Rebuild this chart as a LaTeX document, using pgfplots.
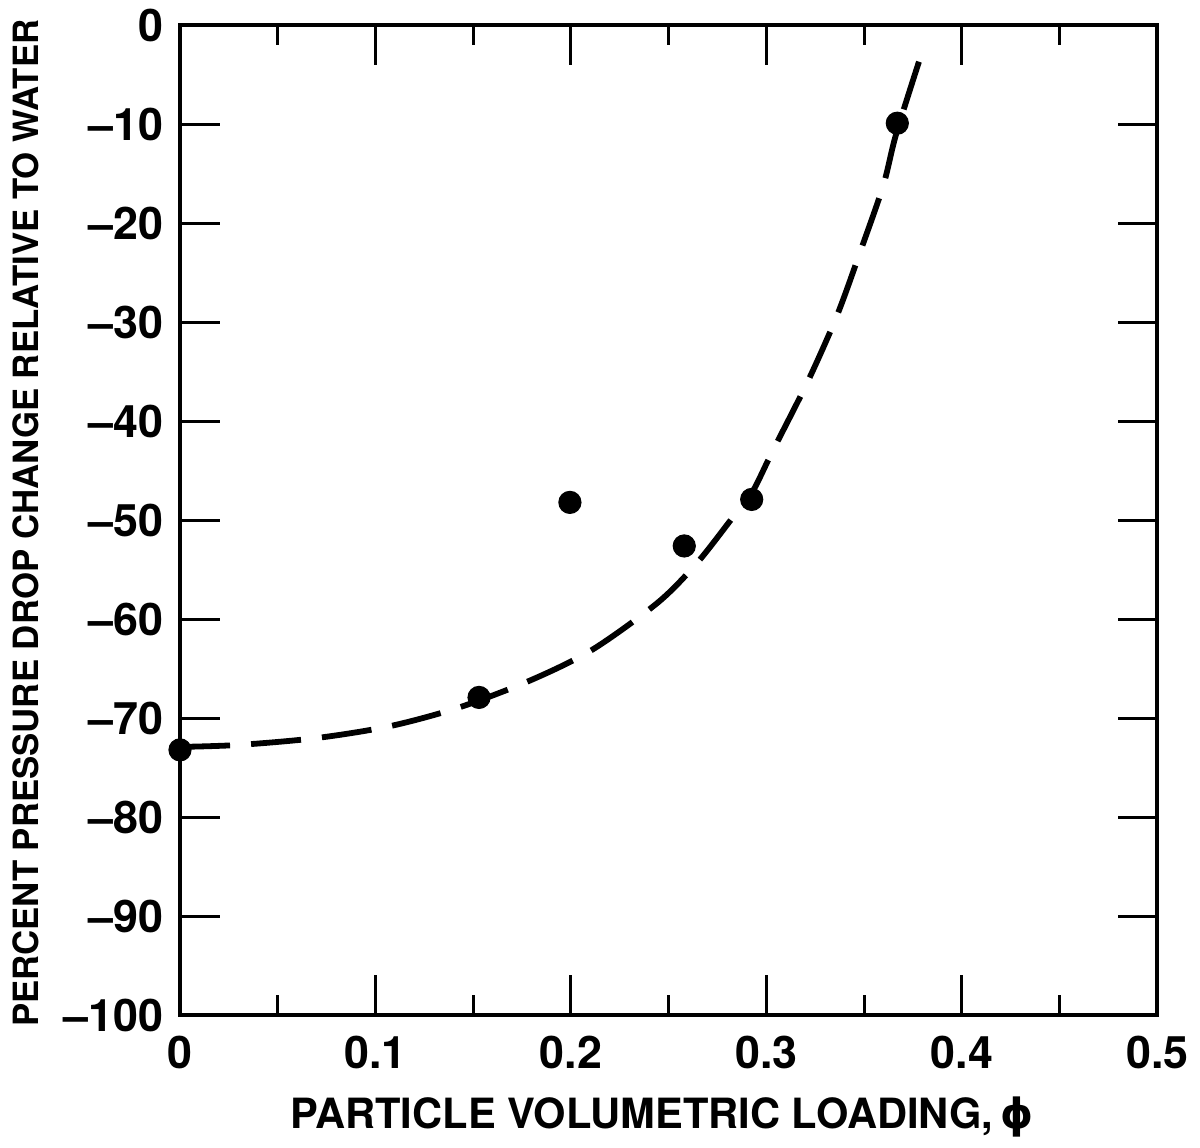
\documentclass[border=0pt]{standalone}
\usepackage{pgfplots}
\pgfplotsset{compat=1.18}
\usepackage{fontspec}
\setmainfont{TeX Gyre Heros}
\newfontfamily\dejavu{DejaVu Sans}
\begin{document}
\begin{tikzpicture}[x=1cm,y=1cm]
\begin{axis}[
  scale only axis,
  width=13.03cm, height=13.2cm,
  xmin=0, xmax=0.5, ymin=-100, ymax=0,
  xtick={0,0.1,0.2,0.3,0.4,0.5},
  xticklabels={0,0.1,0.2,0.3,0.4,0.5},
  minor xtick={0.05,0.15,0.25,0.35,0.45},
  ytick={-100,-90,-80,-70,-60,-50,-40,-30,-20,-10,0},
  yticklabels={--100,--90,--80,--70,--60,--50,--40,--30,--20,--10,0},
  tick align=inside,
  major tick length=0.53cm,
  minor tick length=0.27cm,
  axis line style={line width=1.5pt},
  every tick/.style={line width=1.1pt, black},
  tick label style={font=\bfseries\fontsize{17}{17}\selectfont},
  xticklabel style={yshift=-0.15cm},
  yticklabel style={xshift=-0.1cm},
  xlabel={PARTICLE VOLUMETRIC LOADING,\,{\dejavu\bfseries ϕ}},
  ylabel={PERCENT PRESSURE DROP CHANGE RELATIVE TO WATER},
  xlabel style={font=\bfseries\fontsize{15.8}{15.8}\selectfont, at={(axis description cs:0.493,-0.103)}, anchor=center},
  ylabel style={font=\bfseries\fontsize{13.2}{13.2}\selectfont, at={(axis description cs:-0.158,0.497)}, anchor=center},
  clip=false,
]
\addplot[black, line width=2.2pt, dash pattern=on 19pt off 8pt, smooth, tension=0.5] coordinates {
(0,-72.9) (0.03,-72.7) (0.07,-72.0) (0.1075,-70.8) (0.143,-68.9) (0.179,-66.2)
(0.2108,-63.1) (0.2446,-58.3) (0.2646,-54.3) (0.2825,-49.8) (0.2927,-47.2)
(0.303,-43.1) (0.3214,-35.9) (0.3362,-29.3) (0.348,-22.9) (0.3598,-16.2)
(0.3664,-11.0) (0.3792,-3.0)
};
\addplot[only marks, mark=*, mark size=4.2pt, black] coordinates {
(0,-73.2) (0.153,-67.9) (0.1995,-48.2) (0.258,-52.6) (0.2925,-47.9) (0.367,-9.9)
};
\coordinate (sw) at (rel axis cs:0,0);
\end{axis}
\path (sw) ++(-2.4cm,-1.76cm) rectangle ++(16cm,15.227cm);
\end{tikzpicture}
\end{document}
